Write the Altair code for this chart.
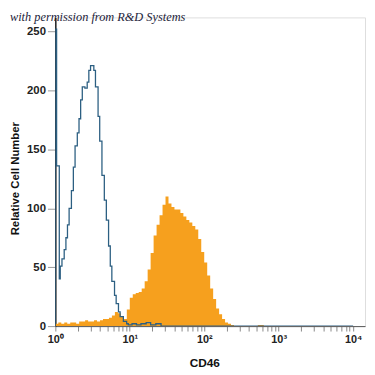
import altair as alt
import pandas as pd

# ---------------- data ----------------
# Isotype control (blue outline): bin edges in log10(intensity) and counts
blue_log = [0.000, 0.000, 0.017, 0.053, 0.066, 0.089, 0.119, 0.142, 0.163, 0.185,
            0.216, 0.242, 0.265, 0.295, 0.318, 0.340, 0.362, 0.397, 0.428, 0.450,
            0.473, 0.517, 0.539, 0.574, 0.596, 0.626, 0.658, 0.685, 0.715, 0.738,
            0.759, 0.795, 0.817, 0.848, 0.870, 0.914, 0.958, 0.980, 1.03, 1.09,
            1.15, 1.22, 1.28, 1.35, 1.42, 4.0]
blue_cnt = [0, 252, 136, 40, 51, 57, 65, 75, 86, 100,
            115, 135, 153, 164, 176, 192, 203, 202, 207, 217,
            221, 217, 203, 178, 157, 128, 107, 90, 68, 51,
            38, 26, 19, 12, 8, 4, 2, 1, 2, 1,
            2, 3, 1, 2, 0, 0]

# CD46 stained (orange filled): counts in bins of 0.04 decade from 10^0 to 10^4
orange_bin = 0.04
orange_cnt = [2, 3, 2, 3, 2, 3, 3, 2, 4, 4,
              5, 4, 4, 5, 4, 5, 6, 6, 7, 9,
              12, 11, 8, 6, 14, 24, 27, 28, 29, 32,
              38, 48, 62, 77, 86, 94, 103, 110, 104, 101,
              99, 99, 96, 93, 90, 88, 85, 82, 74, 63,
              54, 43, 32, 23, 15, 10, 6, 3, 2, 1,
              0, 0, 0, 0, 0, 0, 0, 0, 1, 1,
              0, 0, 0, 0, 0, 0, 0, 0, 0, 0,
              0, 0, 0, 0, 0, 0, 0, 0, 0, 0,
              0, 0, 0, 0, 0, 0, 0, 0, 0, 0]

x_major = [1, 10, 100, 1000, 10000]
x_labels = ["10\u2070", "10\u00b9", "10\u00b2", "10\u00b3", "10\u2074"]
y_ticks = [0, 50, 100, 150, 200, 250]
watermark = "with permission from R&D Systems"

# ---------------- tables ----------------
blue_df = pd.DataFrame({
    "x": [10 ** v for v in blue_log],
    "y": blue_cnt,
    "o": list(range(len(blue_cnt))),
})
o_edges = [round(orange_bin * i, 4) for i in range(len(orange_cnt) + 1)]
orange_df = pd.DataFrame({
    "x": [10 ** v for v in o_edges],
    "y": orange_cnt + [0],
})

x_ticks = []
for dec in [1, 10, 100, 1000]:
    for m in range(1, 10):
        x_ticks.append(dec * m)
x_ticks.append(10000)

label_expr = " : ".join(
    [f"datum.value == {v} ? '{l}'" for v, l in zip(x_major, x_labels)]
) + " : ''"

xscale = alt.Scale(type="log", domain=[1, 10 ** 4.16], nice=False)
yscale = alt.Scale(domain=[0, 262], nice=False)

xaxis = alt.Axis(values=x_ticks, labelExpr=label_expr, title="CD46",
                 grid=False, tickSize=5, tickColor="#888888", domainColor="#555555",
                 labelFont="Liberation Sans", labelFontWeight="bold", labelFontSize=11,
                 labelColor="#222222", labelPadding=3, labelOverlap=False, labelFlush=False,
                 titleFont="Liberation Sans", titleFontWeight="bold", titleFontSize=12,
                 titleColor="#111111", titleX=151, titleY=37, titleBaseline="middle")
yaxis = alt.Axis(values=y_ticks, title="Relative Cell Number", grid=False,
                 tickSize=8, tickColor="#999999", domainColor="#000000", domainWidth=1.3,
                 labelFont="Liberation Sans", labelFontWeight="bold", labelFontSize=11.5,
                 labelColor="#222222", labelPadding=2,
                 titleFont="Liberation Sans", titleFontWeight="bold", titleFontSize=11.5,
                 titleColor="#111111", titleX=-35, titleY=163)

orange = alt.Chart(orange_df).mark_area(
    interpolate="step-after", color="#F6A01E", clip=True
).encode(
    x=alt.X("x:Q", scale=xscale, axis=xaxis),
    y=alt.Y("y:Q", scale=yscale, axis=yaxis, stack=None),
)

blue = alt.Chart(blue_df).mark_line(
    interpolate="step-after", color="#2c5f82", strokeWidth=1.3, clip=True
).encode(
    x=alt.X("x:Q", scale=xscale),
    y=alt.Y("y:Q", scale=yscale),
    order="o:Q",
)

text = alt.Chart(pd.DataFrame({"t": [watermark]})).mark_text(
    align="left", baseline="middle", font="Liberation Serif", fontStyle="italic",
    fontSize=12.5, color="#1c1c3a"
).encode(x=alt.value(-46), y=alt.value(0), text="t:N")

chart = alt.layer(orange, blue, text).properties(
    width=314, height=313,
    autosize=alt.AutoSizeParams(type="none"),
    padding={"left": 48, "top": 7, "right": 2, "bottom": 45},
).configure_view(stroke=None).configure(background="white")

chart.save("out.html", embed_options={"renderer": "svg", "actions": False})
